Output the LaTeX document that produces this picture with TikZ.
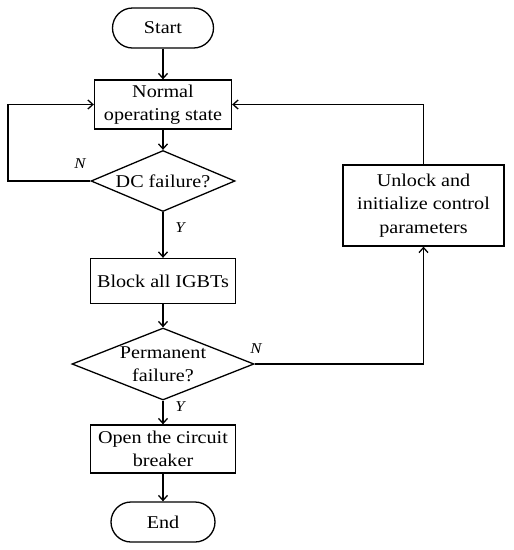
\documentclass[tikz,border=0pt]{standalone}
\usepackage{fontspec}
\setmainfont{Liberation Serif}[FakeStretch=1.12]
\usetikzlibrary{shapes.geometric,arrows.meta}
\begin{document}
\begin{tikzpicture}[x=1pt,y=1pt,
  every node/.style={font=\fontsize{18}{23.5}\selectfont, align=center, line width=1.3pt},
  procbox/.style={draw, rectangle, inner sep=0pt},
  termbox/.style={draw, rectangle, rounded corners=20pt, inner sep=0pt, minimum height=40pt},
  decbox/.style={draw, diamond, inner sep=0pt, aspect=2.5},
  lbl/.style={font=\fontsize{15}{17}\selectfont\itshape},
  arr/.style={line width=1.3pt, -{Straight Barb[length=5pt,width=9pt]}}]
\useasboundingbox (0,0) rectangle (514,-550);
\node[termbox, minimum width=101pt] (start) at (163,-28) {Start};
\node[procbox, minimum width=137pt, minimum height=49pt] (normal) at (163,-104.5) {Normal\\operating state};
\node[decbox, minimum width=144pt, minimum height=61pt] (dc) at (163,-181) {DC failure?};
\node[procbox, minimum width=145pt, minimum height=45pt] (block) at (163,-281) {Block all IGBTs};
\node[decbox, minimum width=182pt, minimum height=72pt] (perm) at (163,-364) {Permanent\\failure?};
\node[procbox, minimum width=145pt, minimum height=48pt] (open) at (163,-449) {Open the circuit\\breaker};
\node[termbox, minimum width=104pt] (end) at (163,-522) {End};
\node[procbox, minimum width=161pt, minimum height=81pt] (unlock) at (423.5,-205.5) {Unlock and\\initialize control\\parameters};
\coordinate (loopL) at (8,-181);
\draw[arr] (start) -- (normal);
\draw[arr] (normal) -- (dc);
\draw[arr] (dc.west) -- (loopL) |- (normal.west);
\draw[arr] (dc) -- (block);
\draw[arr] (block) -- (perm);
\draw[arr] (perm.east) -| (unlock.south);
\draw[arr] (unlock.north) |- (normal.east);
\draw[arr] (perm) -- (open);
\draw[arr] (open) -- (end);
\node[lbl] (n1) at (80,-164) {N};
\node[lbl] (y1) at (180,-228) {Y};
\node[lbl] (n2) at (256,-349) {N};
\node[lbl] (y2) at (180,-407) {Y};
\end{tikzpicture}
\end{document}
